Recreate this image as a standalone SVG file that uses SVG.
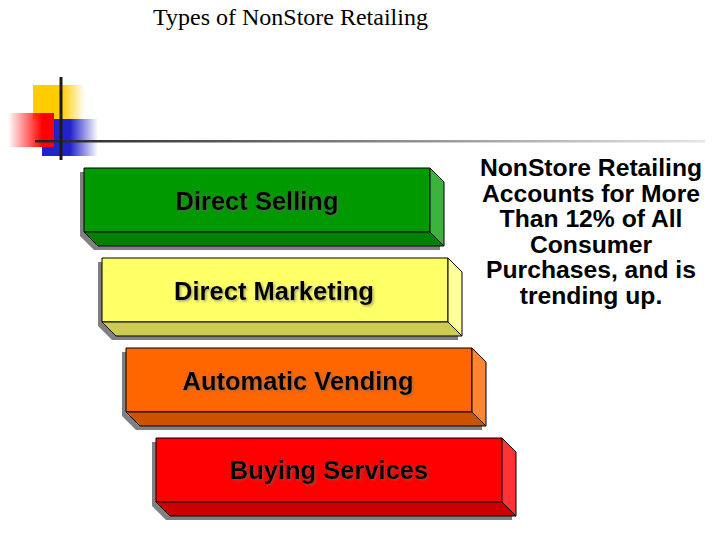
<svg xmlns="http://www.w3.org/2000/svg" width="720" height="540" viewBox="0 0 720 540">
<defs>
<linearGradient id="gY" x1="0" y1="0" x2="1" y2="0"><stop offset="0" stop-color="#ffcc00"/><stop offset="0.55" stop-color="#ffcc00"/><stop offset="1" stop-color="#ffcc00" stop-opacity="0"/></linearGradient>
<linearGradient id="gR" x1="0" y1="0" x2="1" y2="0"><stop offset="0" stop-color="#ff0000" stop-opacity="0"/><stop offset="0.75" stop-color="#ff0000"/><stop offset="1" stop-color="#ff0000"/></linearGradient>
<linearGradient id="gB" x1="0" y1="0" x2="1" y2="0"><stop offset="0" stop-color="#2222cc"/><stop offset="0.5" stop-color="#2222cc"/><stop offset="1" stop-color="#2222cc" stop-opacity="0"/></linearGradient>
<linearGradient id="gL" gradientUnits="userSpaceOnUse" x1="35" y1="0" x2="705" y2="0"><stop offset="0" stop-color="#222222"/><stop offset="1" stop-color="#e6e6e6"/></linearGradient>
<filter id="ts" x="-10%" y="-20%" width="120%" height="150%"><feDropShadow dx="1.5" dy="1.5" stdDeviation="0.8" flood-color="#666666" flood-opacity="0.55"/></filter>
</defs>
<style>
.sh{fill:#808080}
.ed{stroke:#000;stroke-width:1;stroke-linejoin:round}
.lbl{font-family:"Liberation Sans",Arial,sans-serif;font-weight:bold;font-size:25.5px;fill:#000;text-anchor:middle}
.side{font-family:"Liberation Sans",Arial,sans-serif;font-weight:bold;font-size:24.7px;fill:#000;text-anchor:middle}
.title{font-family:"Liberation Serif","Times New Roman",serif;font-size:24px;fill:#000}
</style>
<rect width="720" height="540" fill="#ffffff"/>
<text class="title" x="153" y="25">Types of NonStore Retailing</text>
<g id="logo">
<rect x="33" y="85" width="52" height="34" fill="url(#gY)"/>
<rect x="42" y="119" width="56" height="37" fill="url(#gB)"/>
<rect x="8" y="113" width="46" height="34" fill="url(#gR)"/>
<rect x="35" y="140" width="670" height="2.5" fill="url(#gL)"/>
<line x1="61" y1="77" x2="61" y2="160" stroke="#1a1a1a" stroke-width="3"/>
</g>
<g id="n1" transform="translate(84,168)">
<polygon class="sh" points="-4,4 342,4 356,18 356,82 10,82 -4,68"/>
<rect class="ed" x="0" y="0" width="346" height="64" fill="#009900"/>
<polygon class="ed" points="346,0 360,14 360,78 346,64" fill="#3cb33c"/>
<polygon class="ed" points="0,64 346,64 360,78 14,78" fill="#008000"/>
<text class="lbl" x="173" y="42" filter="url(#ts)">Direct Selling</text>
</g>
<g id="n2" transform="translate(102,258)">
<polygon class="sh" points="-4,4 342,4 356,18 356,82 10,82 -4,68"/>
<rect class="ed" x="0" y="0" width="346" height="64" fill="#ffff66"/>
<polygon class="ed" points="346,0 360,14 360,78 346,64" fill="#ffff99"/>
<polygon class="ed" points="0,64 346,64 360,78 14,78" fill="#cccc52"/>
<text class="lbl" x="172" y="42" filter="url(#ts)">Direct Marketing</text>
</g>
<g id="n3" transform="translate(126,348)">
<polygon class="sh" points="-4,4 342,4 356,18 356,82 10,82 -4,68"/>
<rect class="ed" x="0" y="0" width="346" height="64" fill="#ff6600"/>
<polygon class="ed" points="346,0 360,14 360,78 346,64" fill="#ff8533"/>
<polygon class="ed" points="0,64 346,64 360,78 14,78" fill="#cc5200"/>
<text class="lbl" x="172" y="42" filter="url(#ts)">Automatic Vending</text>
</g>
<g id="n4" transform="translate(156,438)">
<polygon class="sh" points="-4,4 342,4 356,18 356,82 10,82 -4,68"/>
<rect class="ed" x="0" y="0" width="346" height="64" fill="#ff0000"/>
<polygon class="ed" points="346,0 360,14 360,78 346,64" fill="#ff3333"/>
<polygon class="ed" points="0,64 346,64 360,78 14,78" fill="#cc0000"/>
<text class="lbl" x="173" y="41" filter="url(#ts)">Buying Services</text>
</g>
<g id="note">
<text class="side" x="591" y="176">NonStore Retailing</text>
<text class="side" x="591" y="201.6">Accounts for More</text>
<text class="side" x="591" y="227.2">Than 12% of All</text>
<text class="side" x="591" y="252.8">Consumer</text>
<text class="side" x="591" y="278.4">Purchases, and is</text>
<text class="side" x="591" y="304">trending up.</text>
</g>
<g id="connectors"></g>
</svg>
